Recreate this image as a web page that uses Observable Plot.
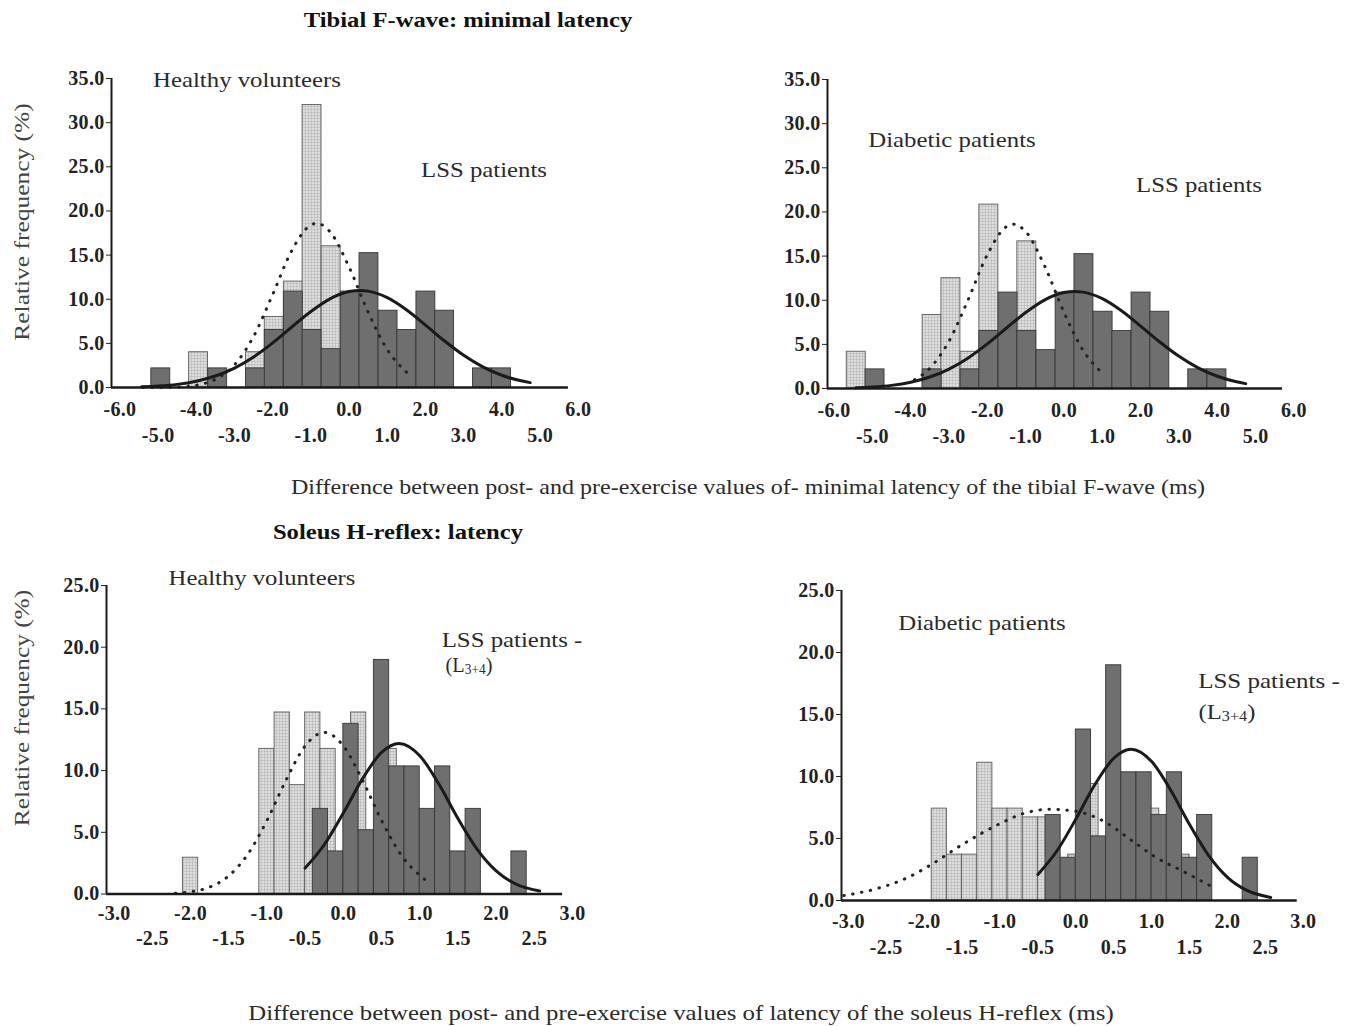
<!DOCTYPE html>
<html><head><meta charset="utf-8">
<script src="https://cdn.jsdelivr.net/npm/d3@7"></script>
<script src="https://cdn.jsdelivr.net/npm/@observablehq/plot@0.6"></script>
<style>
html,body{margin:0;padding:0;background:#fff;}
#root{position:relative;width:1353px;height:1026px;overflow:hidden;background:#fff;font-family:"Liberation Serif","Times New Roman",serif;}
.lbl{position:absolute;white-space:nowrap;line-height:1;transform-origin:center center;}
.lbl sub{font-size:0.66em;vertical-align:-0.12em;}
</style></head><body>
<svg width="0" height="0" style="position:absolute">
<defs>
<pattern id="lightPat" width="3" height="3" patternUnits="userSpaceOnUse">
<rect width="3" height="3" fill="#dedede"/>
<path d="M0 0.5H3M0.5 0V3" stroke="#b6b6b6" stroke-width="0.6"/>
</pattern>
</defs></svg>
<div id="root"></div>
<script>
// ---------- Data: Tibial F-wave (bin width ~0.5 ms) ----------
const fLssCenters    = [-4.93, -3.44, -2.45, -1.96, -1.46, -0.97, -0.47, 0.03, 0.52, 1.02, 1.51, 2.01, 2.50, 3.49, 3.99];
const fLssValues     = [2.17, 2.17, 2.17, 6.52, 10.87, 6.52, 4.35, 10.87, 15.22, 8.70, 6.52, 10.87, 8.70, 2.17, 2.17];
const fHealthyCenters = [-3.94, -2.45, -1.96, -1.46, -0.97, -0.47];
const fHealthyValues  = [4.0, 4.0, 8.0, 12.0, 32.0, 16.0];
const fDiabeticCenters = [-5.42, -3.44, -2.95, -2.45, -1.96, -0.97];
const fDiabeticValues  = [4.17, 8.33, 12.5, 4.17, 20.83, 16.67];

const fLssCurveX = [-5.43, -5.0, -4.5, -4.0, -3.5, -3.0, -2.5, -2.0, -1.5, -1.0, -0.5, 0.0, 0.28, 0.5, 1.0, 1.5, 2.0, 2.5, 3.0, 3.5, 4.0, 4.5, 4.74];
const fLssCurveY = [0.08, 0.17, 0.36, 0.72, 1.31, 2.21, 3.47, 5.06, 6.86, 8.61, 10.05, 10.87, 11.0, 10.92, 10.18, 8.81, 7.07, 5.27, 3.65, 2.34, 1.39, 0.77, 0.56];
const fHealthyCurveX = [-5.4, -5.0, -4.5, -4.0, -3.5, -3.0, -2.5, -2.0, -1.5, -1.0, -0.85, -0.5, 0.0, 0.5, 1.0, 1.52];
const fHealthyCurveY = [0.0, 0.01, 0.06, 0.26, 0.92, 2.57, 5.79, 10.55, 15.52, 18.42, 18.6, 17.65, 13.64, 8.52, 4.29, 1.67];
const fDiabeticCurveX = [-3.9, -3.5, -3.0, -2.5, -2.0, -1.5, -1.32, -1.0, -0.5, 0.0, 0.5, 1.02];
const fDiabeticCurveY = [0.99, 2.30, 5.37, 10.07, 15.17, 18.34, 18.6, 17.78, 13.83, 8.63, 4.32, 1.67];

const fTicksRow1 = [-6, -4, -2, 0, 2, 4, 6];
const fTicksRow2 = [-5, -3, -1, 1, 3, 5];
const fTicksY = [0, 5, 10, 15, 20, 25, 30, 35];

// ---------- Data: Soleus H-reflex (bin width 0.2 ms) ----------
const hLssCenters = [-0.3, -0.1, 0.1, 0.3, 0.5, 0.7, 0.9, 1.1, 1.3, 1.5, 1.7, 2.3];
const hLssValues  = [6.90, 3.45, 13.79, 5.17, 18.97, 10.34, 10.34, 6.90, 10.34, 3.45, 6.90, 3.45];
const hHealthyCenters = [-2.0, -1.0, -0.8, -0.6, -0.4, -0.2, 0.2, 0.6];
const hHealthyValues  = [2.94, 11.76, 14.71, 8.82, 14.71, 11.76, 14.71, 11.76];
const hDiabeticCenters = [-1.8, -1.6, -1.4, -1.2, -1.0, -0.8, -0.6, -0.4, 0.0, 0.2, 1.0, 1.4];
const hDiabeticValues  = [7.41, 3.70, 3.70, 11.11, 7.41, 7.41, 6.70, 6.70, 3.70, 9.40, 7.41, 3.70];

const hLssCurveX = [-0.5, -0.25, 0.0, 0.25, 0.5, 0.73, 1.0, 1.25, 1.5, 1.75, 2.0, 2.25, 2.57];
const hLssCurveY = [2.10, 3.99, 6.56, 9.33, 11.47, 12.2, 11.21, 8.91, 6.12, 3.64, 1.87, 0.83, 0.24];
const hHealthyCurveX = [-2.2, -2.0, -1.75, -1.5, -1.25, -1.0, -0.75, -0.5, -0.25, 0.0, 0.25, 0.5, 0.75, 1.08];
const hHealthyCurveY = [0.06, 0.18, 0.56, 1.47, 3.23, 5.96, 9.23, 12.0, 13.1, 12.0, 9.23, 5.96, 3.23, 1.1];
const hDiabeticCurveX = [-3.06, -2.6, -2.2, -1.89, -1.5, -1.0, -0.7, -0.35, 0.0, 0.3, 0.77, 1.05, 1.4, 1.85];
const hDiabeticCurveY = [0.4, 1.0, 1.9, 2.96, 4.5, 6.2, 7.0, 7.35, 7.2, 6.6, 4.7, 3.5, 2.4, 0.94];

const hTicksRow1 = [-3, -2, -1, 0, 1, 2, 3];
const hTicksRow2 = [-2.5, -1.5, -0.5, 0.5, 1.5, 2.5];
const hTicksY = [0, 5, 10, 15, 20, 25];

// ---------- Drawing ----------
const root = document.getElementById("root");
const rows = (cs, vs) => cs.map((c, i) => ({c, v: vs[i]}));
const pts = (xs, ys) => xs.map((x, i) => ({x, y: ys[i]}));

function drawPanel(p) {
  const ML = 70, MR = 30, MT = 14, MB = 64;
  const xEnd = p.labelMax + 0.3;
  const innerW = (xEnd - p.xa) * p.ux;
  const W = Math.ceil(ML + innerW + MR);
  const innerH = p.ymax * p.uy;
  const H = Math.ceil(MT + innerH + MB);
  const bw = p.binWidth;
  const chart = Plot.plot({
    width: W, height: H,
    marginLeft: ML, marginRight: MR, marginTop: MT, marginBottom: MB,
    style: {fontFamily: '"Liberation Serif","Times New Roman",serif', fontSize: "20px", fontWeight: "bold", letterSpacing: "0.3px", color: "#222", background: "transparent", overflow: "visible"},
    x: {domain: [p.xa, xEnd], range: [ML, ML + innerW], axis: null},
    y: {domain: [0, p.ymax], range: [MT + innerH, MT], ticks: p.yTicks, tickFormat: d => d.toFixed(1), tickSize: 5, tickPadding: 2, label: null},
    marks: [
      Plot.rect(rows(p.lightC, p.lightV), {x1: d => d.c - bw / 2, x2: d => d.c + bw / 2, y1: () => 0, y2: d => d.v, fill: "url(#lightPat)", stroke: "#5c5c5c", strokeWidth: 0.9}),
      Plot.rect(rows(p.darkC, p.darkV), {x1: d => d.c - bw / 2, x2: d => d.c + bw / 2, y1: () => 0, y2: d => d.v, fill: "#6f6f6f", stroke: "#363636", strokeWidth: 0.9}),
      Plot.line(pts(p.dotX, p.dotY), {x: "x", y: "y", curve: "monotone-x", stroke: "#222", strokeWidth: 3, strokeDasharray: "0.5 8.5", strokeLinecap: "round"}),
      Plot.line(pts(p.solX, p.solY), {x: "x", y: "y", curve: "monotone-x", stroke: "#1a1a1a", strokeWidth: 3}),
      Plot.ruleY([0], {x1: () => p.xa, x2: () => p.xe, stroke: "#1a1a1a", strokeWidth: 2.6}),
      Plot.ruleX([p.xa], {y1: () => 0, y2: () => p.ymax, stroke: "#1a1a1a", strokeWidth: 2}),
      Plot.text(p.row1, {x: d => d, y: () => 0, text: d => d.toFixed(1), dy: p.dy1, lineAnchor: "middle", fill: "#222"}),
      Plot.text(p.row2, {x: d => d, y: () => 0, text: d => d.toFixed(1), dy: p.dy2, lineAnchor: "middle", fill: "#222"})
    ]
  });
  chart.style.position = "absolute";
  chart.style.left = (p.x0 + p.xa * p.ux - ML) + "px";
  chart.style.top = (p.y0 - p.ymax * p.uy - MT) + "px";
  root.appendChild(chart);
}

const fCommon = {binWidth: 0.495, ymax: 35, yTicks: fTicksY, row1: fTicksRow1, row2: fTicksRow2, labelMax: 6, dy1: 22.5, dy2: 48.5,
  darkC: fLssCenters, darkV: fLssValues, solX: fLssCurveX, solY: fLssCurveY};
drawPanel({...fCommon, x0: 348.7, ux: 38.2, y0: 387.5, uy: 8.83, xa: -6.22, xe: 5.74,
  lightC: fHealthyCenters, lightV: fHealthyValues, dotX: fHealthyCurveX, dotY: fHealthyCurveY});
drawPanel({...fCommon, x0: 1063.3, ux: 38.33, y0: 388.3, uy: 8.83, xa: -6.17, xe: 5.70,
  lightC: fDiabeticCenters, lightV: fDiabeticValues, dotX: fDiabeticCurveX, dotY: fDiabeticCurveY});

const hCommon = {binWidth: 0.2, ymax: 25, yTicks: hTicksY, row1: hTicksRow1, row2: hTicksRow2, labelMax: 3,
  darkC: hLssCenters, darkV: hLssValues, solX: hLssCurveX, solY: hLssCurveY};
drawPanel({...hCommon, x0: 342.5, ux: 76.4, y0: 893.5, uy: 12.34, xa: -3.10, xe: 2.87, dy1: 19.5, dy2: 45,
  lightC: hHealthyCenters, lightV: hHealthyValues, dotX: hHealthyCurveX, dotY: hHealthyCurveY});
drawPanel({...hCommon, x0: 1075.8, ux: 75.83, y0: 899.5, uy: 12.4, xa: -3.09, xe: 2.92, dy1: 21, dy2: 47,
  lightC: hDiabeticCenters, lightV: hDiabeticValues, dotX: hDiabeticCurveX, dotY: hDiabeticCurveY});

// ---------- Text ----------
function label(html, a, b, c, size, opts = {}) {
  const el = document.createElement("div");
  el.className = "lbl";
  el.innerHTML = html;
  el.style.fontSize = size + "px";
  el.style.fontWeight = opts.bold ? "bold" : "normal";
  el.style.color = opts.color || "#2a2a2a";
  root.appendChild(el);
  const w = el.offsetWidth;
  const s = (b - a) / w;
  if (opts.vertical) {
    el.style.left = c + "px";
    el.style.top = ((a + b) / 2) + "px";
    el.style.transform = `translate(-50%,-50%) rotate(-90deg) scaleX(${s})`;
  } else {
    el.style.left = ((a + b) / 2) + "px";
    el.style.top = c + "px";
    el.style.transform = `translate(-50%,-50%) scaleX(${s})`;
  }
}
label("Tibial F-wave: minimal latency", 303, 632, 20, 22, {bold: true, color: "#111"});
label("Healthy volunteers", 153, 341, 80, 22);
label("LSS patients", 421, 547, 170, 22);
label("Diabetic patients", 868, 1035, 140, 22);
label("LSS patients", 1136, 1262, 185, 22);
label("Relative frequency (%)", 103, 340, 22, 22, {vertical: true, color: "#444"});
label("Difference between post- and pre-exercise values of- minimal latency of the tibial F-wave (ms)", 291, 1205, 487, 21);
label("Soleus H-reflex: latency", 273, 523, 532, 22, {bold: true, color: "#111"});
label("Healthy volunteers", 168, 355, 578, 22);
label("LSS patients -", 441, 582, 640, 22);
label("(L<sub>3+4</sub>)", 445, 492, 665, 22);
label("Diabetic patients", 898, 1065, 623, 22);
label("LSS patients -", 1198, 1340, 681, 22);
label("(L<sub>3+4</sub>)", 1198, 1255, 712, 22);
label("Relative frequency (%)", 590, 826, 22, 22, {vertical: true, color: "#444"});
label("Difference between post- and pre-exercise values of latency of the soleus H-reflex (ms)", 248, 1113, 1013, 21);
</script>
</body></html>
